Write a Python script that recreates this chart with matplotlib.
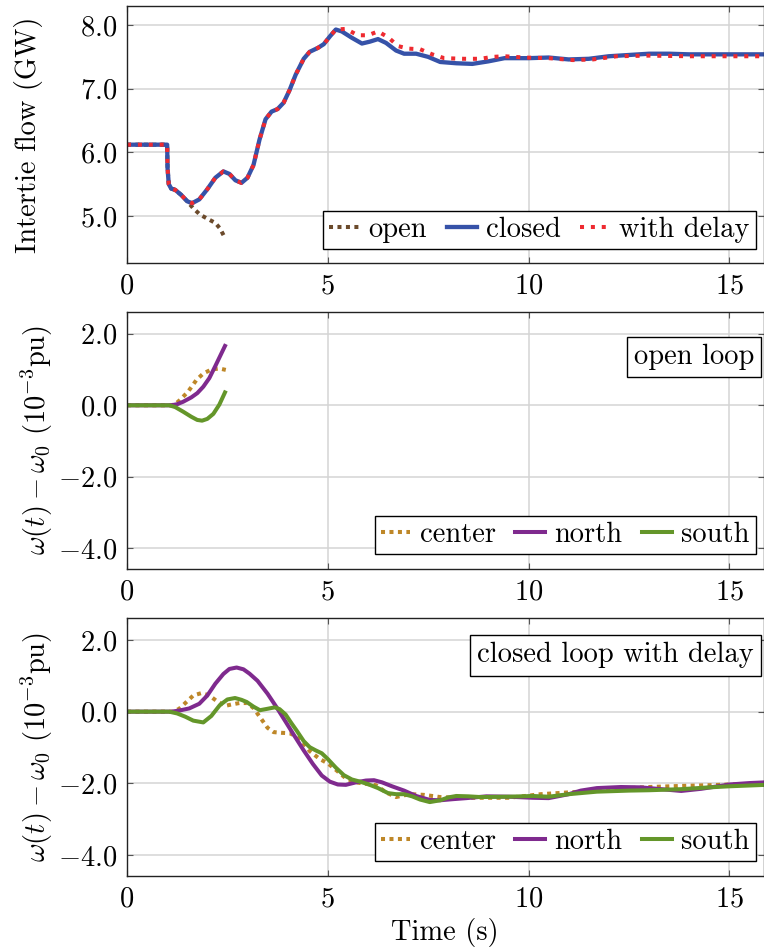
import numpy as np
import matplotlib
matplotlib.use("Agg")
import matplotlib.pyplot as plt
from matplotlib.ticker import FuncFormatter, MultipleLocator

# intertie flow (GW)
t_open = [0, 1.0, 1.01, 1.04, 1.1, 1.2, 1.35, 1.5, 1.65, 1.82, 2.02, 2.2, 2.32, 2.45]
p_open = [6.12, 6.12, 5.75, 5.50, 5.43, 5.41, 5.33, 5.23, 5.12, 5.02, 4.95, 4.89, 4.80, 4.64]

t_closed = [0, 1.0, 1.01, 1.04, 1.1, 1.2, 1.35, 1.5, 1.62, 1.8, 2.0, 2.2, 2.4, 2.55,
            2.7, 2.85, 3.0, 3.15, 3.3, 3.45, 3.6, 3.75, 3.9, 4.05, 4.2, 4.4, 4.55,
            4.75, 4.9, 5.05, 5.2, 5.35, 5.6, 5.85, 6.05, 6.25, 6.45, 6.7, 6.9, 7.2,
            7.5, 7.8, 8.2, 8.6, 9.0, 9.4, 10.0, 10.5, 11.0, 11.5, 12.0, 12.5, 13.0,
            13.5, 14.0, 15.0, 15.9]
p_closed = [6.12, 6.12, 5.75, 5.50, 5.43, 5.41, 5.33, 5.23, 5.20, 5.26, 5.42, 5.60, 5.70, 5.66,
            5.56, 5.52, 5.60, 5.80, 6.20, 6.52, 6.64, 6.68, 6.78, 6.98, 7.22, 7.47, 7.58,
            7.64, 7.70, 7.82, 7.93, 7.90, 7.80, 7.71, 7.74, 7.78, 7.72, 7.60, 7.55, 7.55,
            7.50, 7.42, 7.40, 7.39, 7.43, 7.48, 7.48, 7.49, 7.46, 7.47, 7.51, 7.53, 7.55,
            7.55, 7.54, 7.54, 7.54]

t_delay = [0, 1.0, 1.01, 1.04, 1.1, 1.2, 1.35, 1.5, 1.62, 1.8, 2.0, 2.2, 2.4, 2.55,
           2.7, 2.85, 3.0, 3.15, 3.3, 3.45, 3.6, 3.75, 3.9, 4.05, 4.2, 4.4, 4.55,
           4.75, 4.9, 5.05, 5.2, 5.45, 5.75, 6.0, 6.25, 6.5, 6.75, 7.0, 7.3, 7.6,
           7.9, 8.4, 8.8, 9.1, 9.4, 9.9, 10.5, 11.1, 11.6, 12.2, 13.0, 14.0, 15.9]
p_delay = [6.12, 6.12, 5.75, 5.50, 5.43, 5.41, 5.33, 5.23, 5.20, 5.26, 5.42, 5.60, 5.70, 5.66,
           5.56, 5.52, 5.60, 5.80, 6.20, 6.52, 6.64, 6.68, 6.78, 6.98, 7.22, 7.47, 7.58,
           7.64, 7.70, 7.82, 7.93, 7.94, 7.84, 7.84, 7.90, 7.81, 7.67, 7.63, 7.62, 7.54,
           7.48, 7.47, 7.47, 7.50, 7.51, 7.49, 7.48, 7.45, 7.46, 7.51, 7.52, 7.51, 7.51]

# frequency deviation, open loop (1e-3 pu)
t_ol_center = [0, 1.1, 1.2, 1.32, 1.52, 1.73, 1.9, 2.1, 2.3, 2.46]
w_ol_center = [0, 0, 0.03, 0.15, 0.38, 0.71, 0.89, 1.00, 1.03, 0.99]
t_ol_north = [0, 1.1, 1.25, 1.4, 1.6, 1.75, 1.9, 2.05, 2.2, 2.32, 2.44]
w_ol_north = [0, 0, 0.03, 0.10, 0.22, 0.34, 0.52, 0.76, 1.10, 1.38, 1.66]
t_ol_south = [0, 1.05, 1.2, 1.4, 1.6, 1.75, 1.87, 2.0, 2.15, 2.3, 2.44]
w_ol_south = [0, 0, -0.05, -0.18, -0.32, -0.41, -0.43, -0.38, -0.24, 0.02, 0.36]

# frequency deviation, closed loop with delay (1e-3 pu)
t_cl_center = [0, 1.15, 1.3, 1.48, 1.65, 1.86, 2.05, 2.23, 2.44, 2.6, 2.8, 3.0, 3.15,
               3.31, 3.5, 3.65, 3.85, 4.05, 4.2, 4.35, 4.55, 4.8, 5.0, 5.2, 5.45, 5.7,
               6.0, 6.2, 6.45, 6.7, 6.9, 7.1, 7.4, 7.8, 8.2, 8.6, 9.0, 9.5, 10.0, 10.3,
               11.0, 11.7, 12.5, 13.0, 13.8, 14.5, 15.0, 15.9]
w_cl_center = [0, 0, 0.08, 0.27, 0.45, 0.52, 0.45, 0.30, 0.16, 0.20, 0.24, 0.24, 0.10,
               -0.15, -0.45, -0.57, -0.59, -0.60, -0.68, -0.82, -1.10, -1.32, -1.44, -1.62, -1.86, -1.97,
               -2.02, -2.05, -2.25, -2.38, -2.33, -2.30, -2.32, -2.38, -2.40, -2.40, -2.40, -2.40, -2.34, -2.30,
               -2.25, -2.20, -2.13, -2.10, -2.07, -2.05, -2.03, -2.00]
t_cl_north = [0, 1.1, 1.3, 1.55, 1.8, 2.0, 2.2, 2.4, 2.55, 2.73, 2.9, 3.05, 3.25, 3.5,
              3.72, 3.95, 4.15, 4.4, 4.63, 4.85, 5.05, 5.25, 5.45, 5.7, 5.95, 6.15, 6.35,
              6.6, 6.9, 7.2, 7.54, 7.8, 8.1, 8.45, 8.95, 9.5, 10.1, 10.5, 11.0, 11.3,
              11.7, 12.3, 12.8, 13.3, 13.8, 14.3, 15.0, 15.5, 15.9]
w_cl_north = [0, 0, 0.03, 0.09, 0.22, 0.45, 0.78, 1.05, 1.19, 1.23, 1.18, 1.06, 0.86, 0.50,
              0.13, -0.28, -0.64, -1.08, -1.46, -1.78, -1.95, -2.03, -2.04, -1.97, -1.92, -1.91, -1.97,
              -2.08, -2.20, -2.35, -2.46, -2.47, -2.44, -2.41, -2.36, -2.37, -2.40, -2.41, -2.30, -2.20,
              -2.13, -2.10, -2.11, -2.16, -2.21, -2.15, -2.03, -1.99, -1.97]
t_cl_south = [0, 1.05, 1.25, 1.45, 1.65, 1.9, 2.1, 2.31, 2.5, 2.69, 2.85, 2.98, 3.15,
              3.31, 3.5, 3.68, 3.8, 3.95, 4.1, 4.22, 4.4, 4.55, 4.7, 4.85, 5.0, 5.2,
              5.4, 5.6, 5.8, 6.0, 6.25, 6.5, 6.7, 6.9, 7.1, 7.3, 7.54, 7.8, 8.0, 8.2,
              8.5, 8.8, 9.5, 10.1, 10.5, 11.0, 11.7, 12.5, 13.0, 13.8, 14.5, 15.0, 15.9]
w_cl_south = [0, 0, -0.05, -0.14, -0.25, -0.30, -0.12, 0.18, 0.34, 0.38, 0.33, 0.27, 0.14,
              0.04, 0.08, 0.12, 0.07, -0.08, -0.33, -0.52, -0.82, -0.99, -1.08, -1.16, -1.32, -1.56,
              -1.77, -1.89, -1.95, -2.02, -2.13, -2.27, -2.30, -2.30, -2.36, -2.45, -2.52, -2.47, -2.39, -2.35,
              -2.36, -2.38, -2.37, -2.35, -2.37, -2.30, -2.23, -2.20, -2.19, -2.16, -2.11, -2.08, -2.04]

x_ticks = [0, 5, 10, 15]

FS = 20.5
plt.rcParams["font.family"] = "serif"
plt.rcParams["font.serif"] = ["cmr10"]
plt.rcParams["mathtext.fontset"] = "cm"
plt.rcParams["axes.unicode_minus"] = False
plt.rcParams["axes.formatter.use_mathtext"] = True
plt.rcParams["font.size"] = FS

c_open = "#6b4a2b"
c_closed = "#3652a8"
c_delay = "#ee2a30"
c_center = "#be8728"
c_north = "#7f2a8e"
c_south = "#64962a"
dot_red = (0, (1.0, 1.7))
dot_brn = (0, (1.0, 1.1))
lw = 2.9

fig = plt.figure(figsize=(7.64, 9.52), dpi=100)
W, H = 764.0, 952.0
AXW = 636.5
left = 127 / W
width = AXW / W

def make_axes(top_px, bot_px):
    return fig.add_axes([left, 1 - bot_px / H, width, (bot_px - top_px) / H])

ax1 = make_axes(6, 263)
ax2 = make_axes(312, 569)
ax3 = make_axes(618, 876)

yfmt = FuncFormatter(lambda v, pos: r"$%.1f$" % v)
for ax in (ax1, ax2, ax3):
    ax.set_xlim(0, 15.85)
    ax.set_xticks(x_ticks)
    ax.xaxis.set_major_formatter(FuncFormatter(lambda v, pos: r"$%d$" % v))
    ax.yaxis.set_major_formatter(yfmt)
    ax.grid(True, color="#d4d4d4", lw=1.1)
    ax.set_axisbelow(True)
    ax.tick_params(direction="in", length=4, width=0.8, top=True, right=True,
                   color="#555555", pad=7)
    for s in ax.spines.values():
        s.set_linewidth(1.0)
        s.set_color("#222222")

legend_kw = dict(ncol=3, frameon=True, fancybox=False, edgecolor="black",
                 framealpha=1, borderaxespad=0, handlelength=1.05, handletextpad=0.32,
                 columnspacing=0.7, borderpad=0.2, fontsize=FS)

# top: intertie flow
ax1.plot(t_open, p_open, color=c_open, lw=lw, ls=dot_brn, label="open")
ax1.plot(t_closed, p_closed, color=c_closed, lw=3.1, label="closed")
ax1.plot(t_delay, p_delay, color=c_delay, lw=lw, ls=dot_red, label="with delay")
ax1.set_ylim(4.26, 8.3)
ax1.set_yticks([5.0, 6.0, 7.0, 8.0])
ax1.set_ylabel("Intertie flow (GW)")
ax1.yaxis.set_label_coords((43 - 127) / AXW, 0.5)
leg = ax1.legend(loc="lower right", bbox_to_anchor=(1 - 8 / AXW, 14 / 257), **legend_kw)
leg.get_frame().set_linewidth(1.0)

# middle: open loop
ax2.plot(t_ol_center, w_ol_center, color=c_center, lw=lw, ls=dot_brn, label="center")
ax2.plot(t_ol_north, w_ol_north, color=c_north, lw=lw, label="north")
ax2.plot(t_ol_south, w_ol_south, color=c_south, lw=lw, label="south")

# bottom: closed loop with delay
ax3.plot(t_cl_center, w_cl_center, color=c_center, lw=lw, ls=dot_brn, label="center")
ax3.plot(t_cl_north, w_cl_north, color=c_north, lw=lw, label="north")
ax3.plot(t_cl_south, w_cl_south, color=c_south, lw=lw, label="south")

for ax, title, top_off in ((ax2, "open loop", 32), (ax3, "closed loop with delay", 24)):
    ax.set_ylim(-4.58, 2.61)
    ax.set_yticks([-4.0, -2.0, 0.0, 2.0])
    ax.set_ylabel(r"$\omega(t) - \omega_0\ (10^{-3}\mathrm{pu})$")
    ax.yaxis.set_label_coords((55 - 127) / AXW, 0.5)
    leg = ax.legend(loc="lower right", bbox_to_anchor=(1 - 8 / AXW, 15 / 257), **legend_kw)
    leg.get_frame().set_linewidth(1.0)
    ax.text((754 - 127) / AXW, 1 - top_off / 257, title, transform=ax.transAxes,
            ha="right", va="top",
            bbox=dict(boxstyle="square,pad=0.25", fc="white", ec="black", lw=1.0))

ax3.set_xlabel("Time (s)", labelpad=4)

fig.savefig("out.png", dpi=100)
